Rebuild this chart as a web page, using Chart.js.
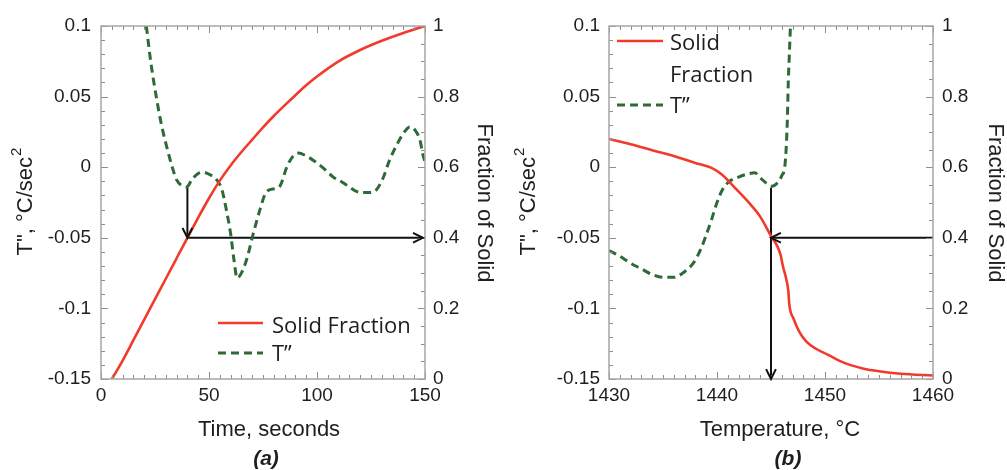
<!DOCTYPE html>
<html><head><meta charset="utf-8">
<script src="https://cdn.jsdelivr.net/npm/chart.js@4.4.1/dist/chart.umd.min.js"></script>
<style>
html,body{margin:0;padding:0;background:#fff;}
#wrap{position:relative;width:1007px;height:470px;overflow:hidden;}
.panel{position:absolute;top:0;height:470px;}
</style></head><body>
<div id="wrap">
<div class="panel" style="left:0;width:503px"><canvas id="ca" width="503" height="470"></canvas></div>
<div class="panel" style="left:503px;width:504px"><canvas id="cb" width="504" height="470"></canvas></div>
</div>
<script>
// ---------- Panel (a): vs time ----------
const timeFsA = [5, 7, 10, 15, 20, 25, 30, 35, 40, 45, 50, 55, 60, 65, 70, 75, 80, 85, 90, 95, 100, 110, 120, 130, 140, 150];
const fsA     = [0, 0.02, 0.052, 0.11, 0.168, 0.226, 0.284, 0.342, 0.40, 0.457, 0.512, 0.562, 0.605, 0.643, 0.678, 0.713, 0.745, 0.775, 0.804, 0.832, 0.857, 0.9, 0.932, 0.958, 0.98, 1.0];
const timeTppA = [21, 23, 25.8, 28, 30.5, 33, 35, 37.5, 39.7, 42, 44.5, 47, 50, 53.6, 56, 58, 60, 61.5, 63, 65, 67.5, 70.5, 73.6, 76, 78, 81, 83, 86, 88.5, 91.3, 95, 100, 104, 107.5, 111, 115, 118, 121, 125, 127.5, 130.5, 133.6, 137, 140, 143, 145.5, 147.7, 149, 150];
const tppA     = [0.1, 0.075, 0.048, 0.03, 0.014, 0.0, -0.009, -0.013, -0.014, -0.009, -0.005, -0.0035, -0.005, -0.009, -0.016, -0.03, -0.047, -0.065, -0.0785, -0.075, -0.065, -0.047, -0.030, -0.019, -0.016, -0.015, -0.013, 0.0, 0.007, 0.010, 0.008, 0.003, -0.002, -0.007, -0.01, -0.014, -0.017, -0.018, -0.018, -0.016, -0.008, 0.005, 0.016, 0.024, 0.0285, 0.026, 0.019, 0.009, 0.004];
const arrowA1X = [40, 40],   arrowA1Y = [-0.0145, -0.05];
const arrowA2X = [40, 149],  arrowA2Y = [-0.05, -0.05];
const xTicksA = [0, 50, 100, 150];

// ---------- Panel (b): vs temperature ----------
const tempFsB = [1430, 1432, 1434, 1436, 1438, 1439.5, 1440.5, 1441.8, 1443, 1444, 1445, 1445.6, 1445.9, 1446.1, 1446.4, 1446.6, 1446.7, 1447.1, 1447.6, 1448.3, 1449.2, 1450.2, 1451.3, 1452.3, 1453.5, 1455, 1457, 1460];
const fsB     = [0.68, 0.665, 0.648, 0.632, 0.612, 0.598, 0.578, 0.537, 0.498, 0.46, 0.405, 0.375, 0.35, 0.32, 0.285, 0.25, 0.21, 0.17, 0.135, 0.105, 0.085, 0.07, 0.052, 0.04, 0.03, 0.022, 0.015, 0.01];
const tempTppB = [1430, 1431, 1432, 1433, 1434, 1435, 1436, 1437, 1437.8, 1438.5, 1439, 1439.5, 1440, 1440.5, 1441, 1442, 1443, 1443.5, 1444, 1444.6, 1445.1, 1445.6, 1446, 1446.3, 1446.5, 1446.6, 1446.7, 1446.8];
const tppB     = [-0.059, -0.063, -0.068, -0.072, -0.076, -0.078, -0.078, -0.074, -0.068, -0.058, -0.048, -0.037, -0.025, -0.016, -0.011, -0.007, -0.0045, -0.004, -0.0075, -0.0115, -0.0135, -0.011, -0.006, 0.002, 0.03, 0.06, 0.08, 0.1];
const arrowB1X = [1460, 1445], arrowB1Y = [-0.05, -0.05];
const arrowB2X = [1445, 1445], arrowB2Y = [-0.0145, -0.15];
const xTicksB = [1430, 1440, 1450, 1460];

// ---------- shared axes ----------
const yLeftTicks  = [-0.15, -0.1, -0.05, 0, 0.05, 0.1];
const yLeftLabels = ['-0.15', '-0.1', '-0.05', '0', '0.05', '0.1'];
const yRightTicks  = [0, 0.2, 0.4, 0.6, 0.8, 1];
const yRightLabels = ['0', '0.2', '0.4', '0.6', '0.8', '1'];
const seriesNames = ['Solid Fraction', 'T\u201D'];

const RED = '#f23a2c', GREEN = '#2c6a36', TXT = '#1e1e1e';
Chart.defaults.font.family = '"Liberation Sans", Arial, sans-serif';
Chart.defaults.color = TXT;

function pts(xs, ys) { return xs.map((x, i) => ({x: x, y: ys[i]})); }

function decor(p) {
  return {
    id: 'decor',
    afterDraw(chart) {
      const {ctx, chartArea: a, scales} = chart;
      ctx.save();
      const ln = (x1, y1, x2, y2) => { ctx.beginPath(); ctx.moveTo(x1, y1); ctx.lineTo(x2, y2); ctx.stroke(); };
      // minor/major inner ticks
      ctx.strokeStyle = '#8e8e8e'; ctx.lineWidth = 1;
      const tickSet = (scale, minor, ratio, fn) => {
        const n = Math.round((scale.max - scale.min) / minor);
        for (let i = 0; i <= n; i++) {
          const px = scale.getPixelForValue(scale.min + i * minor);
          fn(Math.round(px) + 0.5, i % ratio === 0 ? 7 : 4);
        }
      };
      tickSet(scales.x, p.xMinor, p.xRatio, (X, L) => { ln(X, a.bottom, X, a.bottom - L); ln(X, a.top, X, a.top + L); });
      tickSet(scales.y, 0.01, 5, (Y, L) => ln(a.left, Y, a.left + L, Y));
      tickSet(scales.y2, 0.05, 4, (Y, L) => ln(a.right, Y, a.right - L, Y));
      // frame
      ctx.strokeStyle = '#a6a6a6'; ctx.lineWidth = 1.5;
      ctx.strokeRect(a.left, a.top, a.right - a.left, a.bottom - a.top);
      // arrow heads
      ctx.strokeStyle = '#111'; ctx.lineWidth = 2;
      chart.data.datasets.forEach((ds, i) => {
        if (!ds.isArrow) return;
        const d = chart.getDatasetMeta(i).data;
        const e = d[d.length - 1], s = d[d.length - 2];
        const ang = Math.atan2(e.y - s.y, e.x - s.x);
        const L = 11, w = 0.46;
        ctx.beginPath();
        ctx.moveTo(e.x - L * Math.cos(ang - w), e.y - L * Math.sin(ang - w));
        ctx.lineTo(e.x, e.y);
        ctx.lineTo(e.x - L * Math.cos(ang + w), e.y - L * Math.sin(ang + w));
        ctx.stroke();
      });
      // legend
      const lg = p.legend;
      ctx.lineWidth = 2.6; ctx.strokeStyle = RED; ctx.setLineDash([]);
      ln(lg.x1, lg.y1, lg.x2, lg.y1);
      ctx.strokeStyle = GREEN; ctx.lineWidth = 3; ctx.setLineDash([8, 5]);
      ln(lg.x1, lg.y2, lg.x2, lg.y2);
      ctx.setLineDash([]);
      ctx.fillStyle = TXT; ctx.textBaseline = 'middle'; ctx.textAlign = 'left';
      ctx.font = '22px "Open Sans", sans-serif';
      lg.lines.forEach(t => ctx.fillText(t[0], lg.tx, t[1]));
      ctx.fillText(seriesNames[1], lg.tx, lg.y2 + 2);
      // axis titles
      const mainFont = '22px "Liberation Sans", Arial, sans-serif';
      const supFont = '15px "Liberation Sans", Arial, sans-serif';
      ctx.font = mainFont;
      ctx.textAlign = 'center';
      ctx.fillText(p.xTitle, p.xTitleX, 430);
      // left title with superscript 2
      ctx.save(); ctx.translate(p.lTitleX, 202); ctx.rotate(-Math.PI / 2);
      const mainTxt = 'T", \u00B0C/sec';
      const w1 = ctx.measureText(mainTxt).width;
      ctx.font = supFont; const w2 = ctx.measureText('2').width;
      ctx.textAlign = 'left';
      const x0 = -(w1 + w2) / 2;
      ctx.font = mainFont; ctx.fillText(mainTxt, x0, 0);
      ctx.font = supFont; ctx.fillText('2', x0 + w1 + 1, -9);
      ctx.restore();
      ctx.font = mainFont; ctx.textAlign = 'center';
      ctx.save(); ctx.translate(p.rTitleX, 203); ctx.rotate(Math.PI / 2);
      ctx.fillText('Fraction of Solid', 0, 0); ctx.restore();
      ctx.font = 'italic bold 21px "Liberation Sans", Arial, sans-serif';
      ctx.fillText(p.panel, p.panelX, 459);
      ctx.restore();
    }
  };
}

function makeChart(id, o) {
  const fix = (w, h) => (s) => { if (w != null) s.width = w; if (h != null) s.height = h; };
  return new Chart(document.getElementById(id), {
    type: 'line',
    data: {
      datasets: [
        {label: seriesNames[0], data: pts(o.fsX, o.fsY), yAxisID: 'y2', borderColor: RED, borderWidth: 2.6, pointRadius: 0, cubicInterpolationMode: 'monotone', fill: false},
        {label: seriesNames[1], data: pts(o.tX, o.tY), yAxisID: 'y', borderColor: GREEN, borderWidth: 3, borderDash: [8, 5], pointRadius: 0, cubicInterpolationMode: 'monotone', fill: false},
        {label: 'a1', isArrow: true, data: pts(o.a1X, o.a1Y), yAxisID: 'y', borderColor: '#111', borderWidth: 2, pointRadius: 0, tension: 0, clip: 8},
        {label: 'a2', isArrow: true, data: pts(o.a2X, o.a2Y), yAxisID: 'y', borderColor: '#111', borderWidth: 2, pointRadius: 0, tension: 0, clip: 8}
      ]
    },
    options: {
      responsive: false, animation: false, devicePixelRatio: 1,
      layout: {padding: {top: 26, left: 0, right: 0, bottom: 0}},
      plugins: {legend: {display: false}, tooltip: {enabled: false}},
      scales: {
        x: {type: 'linear', position: 'bottom', min: o.xTicks[0], max: o.xTicks[o.xTicks.length - 1],
            afterBuildTicks: s => { s.ticks = o.xTicks.map(v => ({value: v})); },
            ticks: {font: {size: 19}, padding: 5, maxRotation: 0, autoSkip: false, callback: (v) => String(v)},
            grid: {display: false, drawTicks: false}, border: {display: false}, afterFit: fix(null, 91)},
        y: {type: 'linear', position: 'left', min: -0.15, max: 0.1,
            afterBuildTicks: s => { s.ticks = yLeftTicks.map(v => ({value: v})); },
            ticks: {font: {size: 19}, padding: o.lPad, autoSkip: false, callback: (v, i) => yLeftLabels[i]},
            grid: {display: false, drawTicks: false}, border: {display: false}, afterFit: fix(o.lW, null)},
        y2: {type: 'linear', position: 'right', min: 0, max: 1,
            afterBuildTicks: s => { s.ticks = yRightTicks.map(v => ({value: v})); },
            ticks: {font: {size: 19}, padding: o.rPad, autoSkip: false, callback: (v, i) => yRightLabels[i]},
            grid: {display: false, drawTicks: false}, border: {display: false}, afterFit: fix(o.rW, null)}
      }
    },
    plugins: [decor(o.decor)]
  });
}

makeChart('ca', {
  fsX: timeFsA, fsY: fsA, tX: timeTppA, tY: tppA,
  a1X: arrowA1X, a1Y: arrowA1Y, a2X: arrowA2X, a2Y: arrowA2Y,
  xTicks: xTicksA, lW: 101, rW: 78, lPad: 10, rPad: 8,
  decor: {xMinor: 5, xRatio: 10, xTitle: 'Time, seconds', xTitleX: 269, lTitleX: 26, rTitleX: 484, panel: '(a)', panelX: 266,
          legend: {x1: 218, x2: 263, y1: 323, y2: 353, tx: 272, lines: [[seriesNames[0], 327]]}}
});
makeChart('cb', {
  fsX: tempFsB, fsY: fsB, tX: tempTppB, tY: tppB,
  a1X: arrowB1X, a1Y: arrowB1Y, a2X: arrowB2X, a2Y: arrowB2Y,
  xTicks: xTicksB, lW: 106, rW: 74, lPad: 9, rPad: 9,
  decor: {xMinor: 1, xRatio: 10, xTitle: 'Temperature, \u00B0C', xTitleX: 277, lTitleX: 26, rTitleX: 492, panel: '(b)', panelX: 285,
          legend: {x1: 114, x2: 160, y1: 41, y2: 105, tx: 167, lines: [['Solid', 44], ['Fraction', 76]]}}
});
</script>
</body></html>
